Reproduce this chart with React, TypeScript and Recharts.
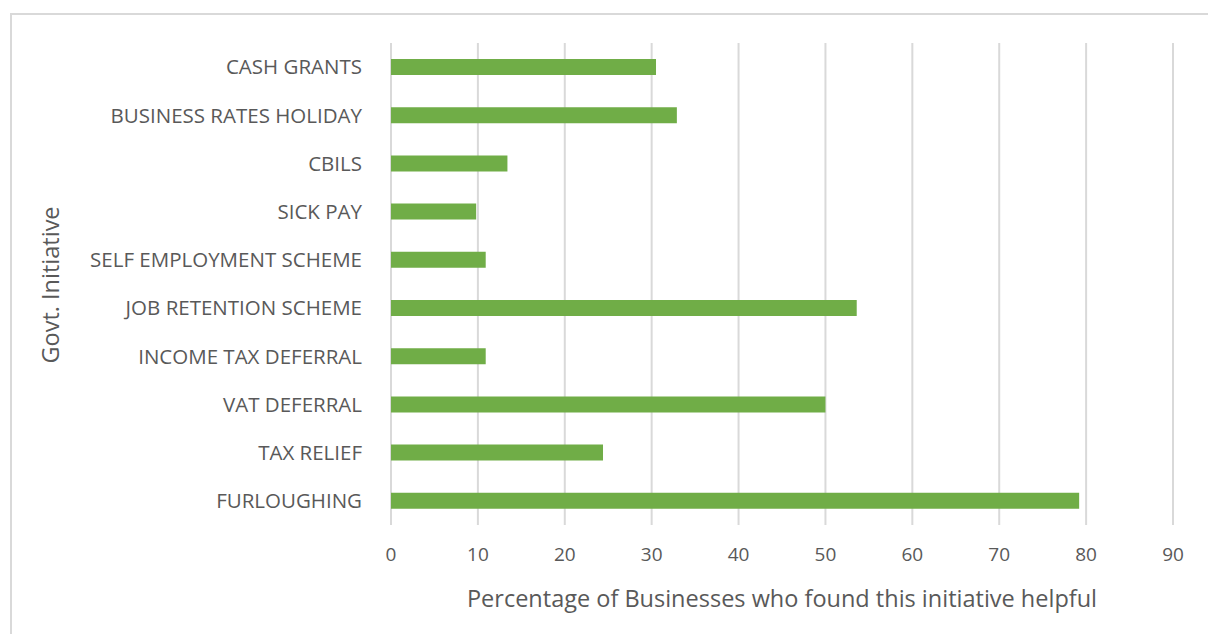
import { BarChart, Bar, XAxis, YAxis, CartesianGrid } from "recharts"

const initiatives = [
    "CASH GRANTS",
    "BUSINESS RATES HOLIDAY",
    "CBILS",
    "SICK PAY",
    "SELF EMPLOYMENT SCHEME",
    "JOB RETENTION SCHEME",
    "INCOME TAX DEFERRAL",
    "VAT DEFERRAL",
    "TAX RELIEF",
    "FURLOUGHING",
]
const helpfulPct = [30.5, 32.9, 13.4, 9.8, 10.9, 53.6, 10.9, 50.0, 24.4, 79.2]
const xTicks = [0, 10, 20, 30, 40, 50, 60, 70, 80, 90]

const data = initiatives.map((name, i) => ({ name, value: helpfulPct[i] }))

const font = "'Open Sans', sans-serif"
const textColor = "#595959"

const App = () => {
    return (
        <div style={{ position: "absolute", left: 0, top: 0, width: 1208, height: 634, background: "#fff", overflow: "hidden" }}>
            <div style={{ position: "absolute", left: 10, top: 13, width: 1300, height: 700, border: "2px solid #d9d9d9" }} />
            <BarChart
                layout="vertical"
                width={1208}
                height={634}
                data={data}
                margin={{ top: 43, right: 35, bottom: 49, left: 0 }}
                barSize={16}
                style={{ position: "absolute", left: 0, top: 0, fontFamily: font }}
            >
                <CartesianGrid horizontal={false} stroke="#d9d9d9" strokeWidth={2} />
                <XAxis
                    type="number"
                    domain={[0, 90]}
                    ticks={xTicks}
                    axisLine={false}
                    tickLine={false}
                    tickSize={0}
                    tickMargin={23}
                    height={60}
                    tick={{ fill: textColor, fontSize: 19, fontFamily: font }}
                    label={{
                        content: () => (
                            <text x={782} y={598} textAnchor="middle" dominantBaseline="central" fill={textColor} fontSize={23.5} fontFamily={font}>
                                Percentage of Businesses who found this initiative helpful
                            </text>
                        ),
                    }}
                />
                <YAxis
                    type="category"
                    dataKey="name"
                    width={391}
                    axisLine={false}
                    tickLine={false}
                    tickSize={0}
                    tickMargin={29}
                    interval={0}
                    tick={{ fill: textColor, fontSize: 20.5, fontFamily: font }}
                    label={{
                        content: () => (
                            <text x={50} y={285} transform="rotate(-90 50 285)" textAnchor="middle" dominantBaseline="central" fill={textColor} fontSize={23.5} fontFamily={font}>
                                Govt. Initiative
                            </text>
                        ),
                    }}
                />
                <Bar dataKey="value" fill="#70ad47" isAnimationActive={false} />
            </BarChart>
        </div>
    )
}

export default App
